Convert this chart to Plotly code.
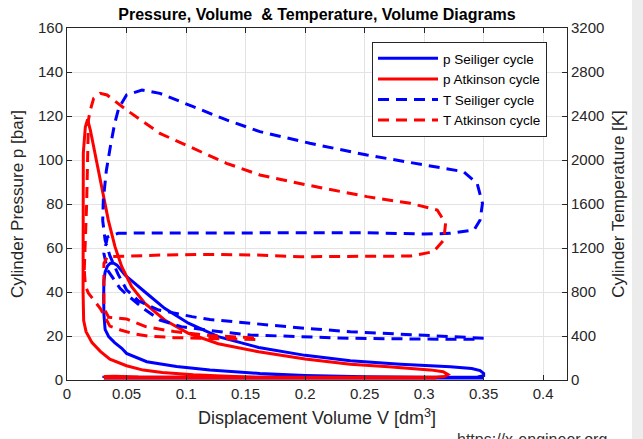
import plotly.graph_objects as go

# ---------------- data ----------------
# p-V Seiliger cycle (V in dm^3, p in bar)
V_p_seiliger = [0.031, 0.10, 0.20, 0.30, 0.35,
                0.35, 0.30, 0.25, 0.20, 0.162, 0.12, 0.092, 0.067, 0.05, 0.046, 0.040, 0.035, 0.032,
                0.031, 0.0308, 0.031, 0.032, 0.034, 0.0364, 0.039, 0.042, 0.0487, 0.0655, 0.082,
                0.102, 0.127, 0.161, 0.20, 0.238, 0.28, 0.322, 0.340, 0.347, 0.350, 0.350, 0.345,
                0.33, 0.25, 0.15, 0.06, 0.035, 0.031, 0.031]
p_seiliger = [0.95, 0.95, 0.95, 0.95, 0.95,
              1.0, 1.2, 1.5, 2.1, 3.0, 4.5, 6.1, 8.3, 12.1, 14.4, 17.0, 19.7, 23.0,
              30.0, 38.0, 45.0, 49.0, 51.8, 53.1, 53.2, 52.2, 47.7, 40.0, 32.6,
              25.8, 19.7, 14.8, 11.2, 8.8, 7.2, 6.0, 5.2, 4.3, 3.0, 2.0, 1.4,
              1.25, 1.2, 1.2, 1.25, 1.3, 1.2, 0.95]

# p-V Atkinson cycle
V_p_atkinson = [0.031, 0.10, 0.20, 0.31, 0.31, 0.16,
                0.16, 0.13, 0.106, 0.08, 0.064, 0.05, 0.036, 0.028, 0.021, 0.016, 0.0140,
                0.0135, 0.0134, 0.0134, 0.0137, 0.0154, 0.0173, 0.0196, 0.0224, 0.0266, 0.031,
                0.0347, 0.0403, 0.046, 0.0543, 0.0655, 0.082, 0.102, 0.127, 0.161, 0.20, 0.238,
                0.27, 0.305, 0.316, 0.32, 0.317, 0.31, 0.25, 0.15, 0.06, 0.04, 0.032, 0.031]
p_atkinson = [0.95, 0.95, 0.95, 0.95, 1.0, 1.1,
              1.2, 1.8, 2.4, 3.4, 4.5, 6.5, 9.5, 13.0, 17.0, 22.0, 27.0,
              40.0, 55.0, 82.0, 103.0, 115.0, 118.5, 113.6, 106.0, 94.0, 81.8,
              72.7, 60.6, 51.5, 42.4, 34.8, 27.3, 21.2, 16.5, 12.8, 9.5, 7.2,
              6.0, 4.6, 3.8, 2.5, 1.6, 1.25, 1.2, 1.2, 1.4, 1.7, 1.6, 0.95]

# T-V Seiliger cycle (T in K)
V_T_seiliger = [0.35, 0.32, 0.28, 0.238, 0.20, 0.154, 0.12, 0.105, 0.077, 0.06, 0.05, 0.043,
                0.036, 0.032, 0.030, 0.0305, 0.033, 0.0364, 0.040, 0.0434, 0.050, 0.063, 0.078,
                0.106, 0.134, 0.162, 0.204, 0.252, 0.308, 0.333, 0.3445, 0.349, 0.347, 0.342,
                0.322, 0.30, 0.252, 0.196, 0.15, 0.10, 0.06, 0.043, 0.034, 0.031, 0.034,
                0.0445, 0.049, 0.064, 0.078, 0.096, 0.12, 0.154, 0.20, 0.238, 0.30, 0.348]
T_seiliger = [380, 394, 415, 439, 470, 515, 550, 576, 636, 720, 820, 960,
              1130, 1273, 1450, 1636, 1900, 2121, 2330, 2470, 2591, 2636, 2606,
              2485, 2364, 2258, 2152, 2045, 1939, 1894, 1788, 1606, 1455, 1364,
              1333, 1327, 1339, 1339, 1342, 1340, 1336, 1333, 1300, 1150, 1000,
              833, 788, 652, 545, 485, 450, 409, 390, 379, 372, 370]

# T-V Atkinson cycle
V_T_atkinson = [0.0145, 0.0165, 0.018, 0.0196, 0.0224, 0.028, 0.0336, 0.05, 0.078, 0.106, 0.134,
                0.162, 0.2015, 0.252, 0.2885, 0.311, 0.318, 0.3165, 0.308, 0.2885, 0.238, 0.196,
                0.16, 0.12, 0.08, 0.05, 0.034, 0.031, 0.031, 0.031, 0.035, 0.05, 0.066, 0.09,
                0.12, 0.16, 0.16, 0.12, 0.09, 0.068, 0.056, 0.045, 0.036, 0.028, 0.022, 0.018,
                0.0155, 0.0145]
T_atkinson = [1000, 1600, 2364, 2455, 2561, 2606, 2591, 2455, 2242, 2106, 1970,
              1864, 1773, 1667, 1606, 1545, 1424, 1273, 1167, 1127, 1121, 1121,
              1136, 1142, 1136, 1125, 1121, 1060, 800, 650, 570, 555, 485, 440,
              405, 380, 368, 375, 385, 400, 420, 455, 490, 650, 740, 790,
              850, 1000]

names = ["p Seiliger cycle", "p Atkinson cycle", "T Seiliger cycle", "T Atkinson cycle"]
x_tickvals = [0, 0.05, 0.1, 0.15, 0.2, 0.25, 0.3, 0.35, 0.4]
x_ticktext = ["0", "0.05", "0.1", "0.15", "0.2", "0.25", "0.3", "0.35", "0.4"]
watermark = "https://x-engineer.org"

BLUE = "rgb(0,0,255)"
RED = "rgb(255,0,0)"
FONT = "Liberation Sans, Arial, sans-serif"

fig = go.Figure()
fig.add_trace(go.Scatter(x=V_p_seiliger, y=p_seiliger, mode="lines", name=names[0],
                         line=dict(color=BLUE, width=3), yaxis="y"))
fig.add_trace(go.Scatter(x=V_p_atkinson, y=p_atkinson, mode="lines", name=names[1],
                         line=dict(color=RED, width=3), yaxis="y"))
fig.add_trace(go.Scatter(x=V_T_seiliger, y=T_seiliger, mode="lines", name=names[2],
                         line=dict(color=BLUE, width=3, dash="11px,7px"), yaxis="y2"))
fig.add_trace(go.Scatter(x=V_T_atkinson, y=T_atkinson, mode="lines", name=names[3],
                         line=dict(color=RED, width=3, dash="11px,7px"), yaxis="y2"))

axis_col = "#262626"
grid_col = "#e3e3e3"
fig.update_layout(
    width=643, height=439,
    margin=dict(l=67, r=76, t=28, b=59),
    paper_bgcolor="white", plot_bgcolor="white",
    font=dict(family=FONT, size=15, color=axis_col),
    title=dict(text="<b>Pressure, Volume  &amp; Temperature, Volume Diagrams</b>",
               x=0.5, xref="paper", xanchor="center", y=1 - 14 / 439, yref="container",
               yanchor="middle", font=dict(size=16, color="black")),
    xaxis=dict(range=[0, 0.42], tickvals=x_tickvals, ticktext=x_ticktext,
               showgrid=True, gridcolor=grid_col, zeroline=False,
               showline=True, linecolor=axis_col, linewidth=1, mirror="ticks",
               ticks="inside", ticklen=5, tickcolor=axis_col,
               title=dict(text="Displacement Volume V [dm<sup>3</sup>]", standoff=10,
                          font=dict(size=18))),
    yaxis=dict(range=[0, 160], dtick=20, showgrid=True, gridcolor=grid_col, zeroline=False,
               showline=True, linecolor=axis_col, linewidth=1,
               ticks="inside", ticklen=5, tickcolor=axis_col,
               title=dict(text="Cylinder Pressure p [bar]", standoff=10, font=dict(size=17))),
    yaxis2=dict(range=[0, 3200], dtick=400, overlaying="y", side="right", showgrid=False,
                zeroline=False, showline=True, linecolor=axis_col, linewidth=1,
                ticks="inside", ticklen=5, tickcolor=axis_col,
                title=dict(text="Cylinder Temperature [K]", standoff=8, font=dict(size=17))),
    legend=dict(x=0.61, y=0.96, xanchor="left", yanchor="top", bgcolor="white",
                bordercolor=axis_col, borderwidth=1, font=dict(size=13.5, color="black"),
                itemwidth=60, tracegroupgap=0),
    showlegend=True,
    shapes=[dict(type="rect", xref="paper", yref="paper",
                 x0=(632 - 67) / 500, x1=(643 - 67) / 500, y0=-59 / 352, y1=(352 + 28) / 352,
                 fillcolor="#ececec", line=dict(width=0), layer="below")],
    annotations=[dict(text=watermark, xref="paper", yref="paper",
                      x=(455 - 67) / 500, y=-(429 - 380) / 352, xanchor="left", yanchor="top",
                      showarrow=False, font=dict(size=16, color="#333333"))],
)

fig.write_html("out.html")
